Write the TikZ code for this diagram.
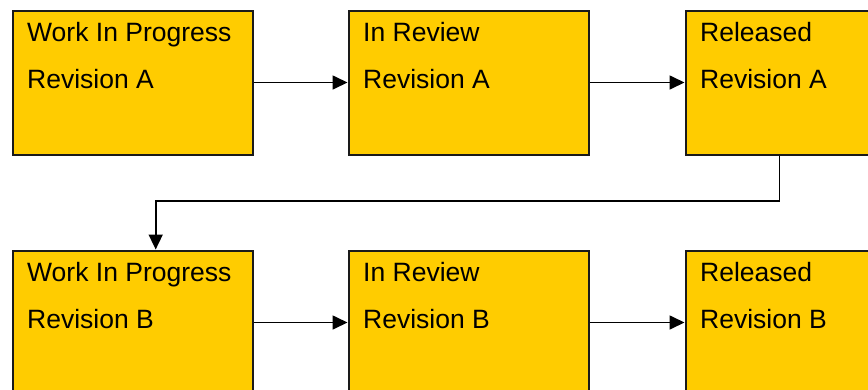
\documentclass[tikz,border=0pt]{standalone}
\usepackage{fontspec}
\setmainfont{Liberation Sans}
\usetikzlibrary{arrows.meta,calc}
\definecolor{boxfill}{HTML}{FFCC00}
\definecolor{edge}{HTML}{1A1A1A}
\tikzset{
  stagebox/.style={draw=edge, line width=2pt, fill=boxfill, rectangle,
    minimum width=240pt, minimum height=144pt, inner sep=0pt, anchor=north west},
  lbl/.style={anchor=base west, inner sep=0pt, font=\fontsize{26.5pt}{30pt}\selectfont},
  arr/.style={draw=black, line width=1.7pt, -{Triangle[length=15pt,width=14pt]}}
}
\newcommand{\stagelabels}[3]{%
  \node[lbl] (#1l1) at ([xshift=15.5pt,yshift=-32.2pt]#1.north west) {#2};
  \node[lbl] (#1l2) at ([xshift=15.5pt,yshift=-78.8pt]#1.north west) {#3};}
\begin{document}
\begin{tikzpicture}[x=1pt,y=-1pt]
\useasboundingbox (0,0) rectangle (868,389);
\clip (0,0) rectangle (868,389);
\node[stagebox] (b1) at (11.5,9.5) {};
\node[stagebox] (b2) at (347.5,9.5) {};
\node[stagebox] (b3) at (684.5,9.5) {};
\node[stagebox] (b4) at (11.5,249.5) {};
\node[stagebox] (b5) at (347.5,249.5) {};
\node[stagebox] (b6) at (684.5,249.5) {};
\stagelabels{b1}{Work In Progress}{Revision A}
\stagelabels{b2}{In Review}{Revision A}
\stagelabels{b3}{Released}{Revision A}
\stagelabels{b4}{Work In Progress}{Revision B}
\stagelabels{b5}{In Review}{Revision B}
\stagelabels{b6}{Released}{Revision B}
\draw[arr] (b1) -- (b2);
\draw[arr] (b2) -- (b3);
\draw[arr] (b4) -- (b5);
\draw[arr] (b5) -- (b6);
\coordinate (c1) at ([xshift=95pt]b3.south west);
\coordinate (c2) at ([xshift=144.2pt]b4.north west);
\coordinate (cm) at (0,201);
\draw[arr] (c1) -- (c1 |- cm) -| (c2);
\end{tikzpicture}
\end{document}
